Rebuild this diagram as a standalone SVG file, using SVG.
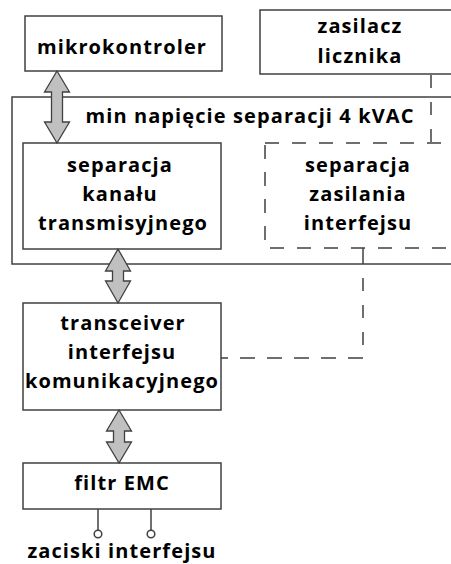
<svg xmlns="http://www.w3.org/2000/svg" width="451" height="564" viewBox="0 0 451 564">
<style>
.box{fill:#fff;stroke:#404040;stroke-width:1.5}
.dbox{fill:none;stroke:#404040;stroke-width:1.5;stroke-dasharray:14 13}
.dl{fill:none;stroke:#404040;stroke-width:1.5}
.arr{fill:#c0c0c0;stroke:#404040;stroke-width:1.3;stroke-linejoin:miter}
text{font-family:"Open Sans","Liberation Sans",sans-serif;font-weight:bold;font-size:20px;letter-spacing:1.1px;fill:#000;text-anchor:middle}
</style>
<rect width="451" height="564" fill="#fff"/>
<g id="izolacja">
<rect class="box" x="12" y="97" width="460" height="167"/>
<text x="250" y="123">min napięcie separacji 4 kVAC</text>
</g>
<g id="mikrokontroler">
<rect class="box" x="25" y="16" width="197" height="55"/>
<text x="122" y="54">mikrokontroler</text>
</g>
<g id="zasilacz">
<rect class="box" x="260" y="10" width="200" height="64"/>
<text x="360" y="33">zasilacz</text>
<text x="360" y="63">licznika</text>
</g>
<g id="separacja-kanalu">
<rect class="box" x="23" y="143" width="198" height="106"/>
<text x="120" y="172">separacja</text>
<text x="120" y="201">kanału</text>
<text x="123" y="230">transmisyjnego</text>
</g>
<g id="separacja-zasilania">
<rect class="dbox" x="265" y="143" width="200" height="105"/>
<text x="358" y="172">separacja</text>
<text x="358" y="201">zasilania</text>
<text x="358" y="230">interfejsu</text>
</g>
<g id="transceiver">
<rect class="box" x="23" y="303" width="198" height="107"/>
<text x="123" y="330">transceiver</text>
<text x="122" y="359">interfejsu</text>
<text x="122" y="388">komunikacyjnego</text>
</g>
<g id="filtr">
<rect class="box" x="23" y="463" width="198" height="46"/>
<text x="122" y="490">filtr EMC</text>
</g>
<g id="zaciski">
<line class="dl" x1="98" y1="509" x2="98" y2="530"/>
<line class="dl" x1="151" y1="509" x2="151" y2="530"/>
<circle class="dl" cx="98" cy="534" r="3.8"/>
<circle class="dl" cx="151" cy="534" r="3.8"/>
<text x="122" y="558">zaciski interfejsu</text>
</g>
<g id="connectors">
<polygon class="arr" points="57,71 69.5,92 62.5,92 62.5,122 69.5,122 57,143 44.5,122 51.5,122 51.5,92 44.5,92"/>
<polygon class="arr" points="118,249 130.5,271 123.5,271 123.5,281 130.5,281 118,303 105.5,281 112.5,281 112.5,271 105.5,271"/>
<polygon class="arr" points="119,410 131.5,431 124.5,431 124.5,442 131.5,442 119,463 106.5,442 113.5,442 113.5,431 106.5,431"/>
<path class="dl" d="M431,75 V142" stroke-dasharray="13 14"/>
<path class="dl" d="M363,248 V264"/>
<path class="dl" d="M363,278 V345" stroke-dasharray="13 14"/>
<path class="dl" d="M363,358 H221" stroke-dasharray="15 12"/>
</g>
</svg>
